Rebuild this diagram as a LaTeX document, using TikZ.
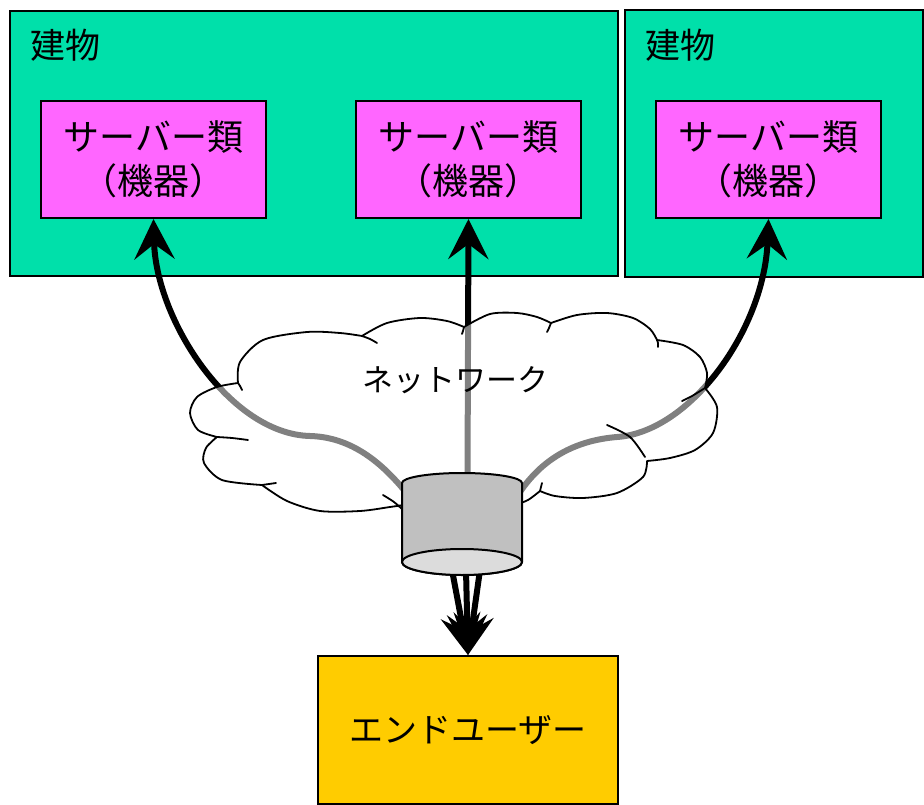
\documentclass[tikz,border=0pt]{standalone}
\usepackage{fontspec}
\setmainfont{Noto Sans CJK JP}
\usetikzlibrary{arrows.meta}
\definecolor{bldgfill}{HTML}{00E0AA}
\definecolor{srvfill}{HTML}{FF66FF}
\definecolor{userfill}{HTML}{FFCC00}
\definecolor{hubbody}{HTML}{C0C0C0}
\definecolor{hubend}{HTML}{DCDCDC}
\begin{document}
\begin{tikzpicture}[x=1pt,y=-1pt,
  bldg/.style={draw=black, line width=2pt, fill=bldgfill, inner sep=0pt, anchor=north west},
  srv/.style={draw=black, line width=2pt, fill=srvfill, anchor=north west,
    minimum width=225pt, minimum height=117pt, inner sep=0pt, align=center,
    font=\fontsize{36pt}{44pt}\selectfont},
  lbl/.style={inner sep=0pt, anchor=west, font=\fontsize{35pt}{40pt}\selectfont},
  conn/.style={line width=6pt, -{Stealth[length=40pt, width=40pt, inset=15pt]}},
  cloudline/.style={draw=black, line width=1.8pt, line join=round, line cap=round},
]
\useasboundingbox (0,0) rectangle (924,805);

% buildings
\node[bldg, minimum width=608pt, minimum height=265pt] (b1) at (9,10) {};
\node[bldg, minimum width=298pt, minimum height=267pt] (b2) at (624,9) {};
\node[lbl] (b1lbl) at (30,45) {建物};
\node[lbl] (b2lbl) at (645,45) {建物};

% servers
\node[srv] (s1) at (40,100) {サーバー類\\（機器）};
\node[srv] (s2) at (355,100) {サーバー類\\（機器）};
\node[srv] (s3) at (655,100) {サーバー類\\（機器）};

% end user
\node[draw=black, line width=2pt, fill=userfill, anchor=north west,
  minimum width=300pt, minimum height=148pt, inner sep=0pt,
  font=\fontsize{34pt}{40pt}\selectfont] (user) at (317,655) {エンドユーザー};

% hub and connector ends
\node[inner sep=0pt, minimum width=120pt, minimum height=102pt] (hub) at (462,524) {};
\coordinate (hl) at (404,490);
\coordinate (kl) at (310,436);
\coordinate (hm) at (467.5,478);
\coordinate (hr) at (520,492);
\coordinate (kr) at (617,437);
\coordinate (d1) at (452,570);
\coordinate (d2) at (466,570);
\coordinate (d3) at (480,570);

% links to the servers
\draw[conn] (hl) .. controls (375,455) and (345,437) .. (kl)
  .. controls (230,434) and (156,320) .. (s1.south);
\draw[conn] (hm) -- (s2.south);
\draw[conn] (hr) .. controls (545,455) and (580,440) .. (kr)
  .. controls (690,432) and (764,330) .. (s3.south);

% links to the end user
\draw[conn] (d1) -- (user.north);
\draw[conn] (d2) -- (user.north);
\draw[conn] (d3) -- (user.north);

% network cloud
\path[cloudline, fill=white, fill opacity=0.5]
  plot[smooth] coordinates {(410,504) (390,507) (360,511) (320,511) (287,501) (262,485)}
  -- plot[smooth] coordinates {(262,485) (222,480) (204,463) (206,448) (217,437)}
  -- plot[smooth] coordinates {(217,437) (198,430) (190,413) (197,397) (217,387) (238,383)}
  -- plot[smooth] coordinates {(238,383) (240,362) (263,340) (307,332) (340,333) (362,336)}
  -- plot[smooth] coordinates {(362,336) (387,323) (420,318) (447,321) (464,327)}
  -- plot[smooth] coordinates {(464,327) (490,314) (517,313) (537,317) (551,323)}
  -- plot[smooth] coordinates {(551,323) (577,315) (607,313) (633,318) (650,329) (657,340)}
  -- plot[smooth] coordinates {(657,340) (683,345) (700,357) (707,373) (705,388)}
  -- plot[smooth] coordinates {(705,388) (717,407) (713,433) (695,450) (670,458) (647,461)}
  -- plot[smooth] coordinates {(647,461) (643,477) (617,493) (583,498) (555,496) (540,491)}
  -- plot[smooth] coordinates {(540,491) (528,500) (515,505)}
  -- cycle;
% inner puff edges
\draw[cloudline] plot[smooth] coordinates {(383,495) (394,502) (403,510)};
\draw[cloudline] plot[smooth] coordinates {(262,485) (269,484) (276,483)};
\draw[cloudline] plot[smooth] coordinates {(217,437) (232,438) (248,440)};
\draw[cloudline] plot[smooth] coordinates {(238,383) (240,386) (242,390)};
\draw[cloudline] plot[smooth] coordinates {(362,336) (370,339) (377,343)};
\draw[cloudline] plot[smooth] coordinates {(464,327) (463,331) (462,334)};
\draw[cloudline] plot[smooth] coordinates {(551,323) (549,328) (547,332)};
\draw[cloudline] plot[smooth] coordinates {(657,340) (658,343) (658,347)};
\draw[cloudline] plot[smooth] coordinates {(705,388) (692,396) (682,401)};
\draw[cloudline] plot[smooth] coordinates {(607,425) (630,437) (645,457)};
\draw[cloudline] plot[smooth] coordinates {(540,491) (541,487) (542,483)};
\node[inner sep=0pt, font=\fontsize{31pt}{36pt}\selectfont] (net) at (455,380) {ネットワーク};

% hub cylinder
\filldraw[fill=hubbody, line width=2pt, line join=round]
  (402,483) arc[start angle=180, end angle=360, x radius=60, y radius=10]
  -- (522,562) arc[start angle=0, end angle=180, x radius=60, y radius=13] -- cycle;
\filldraw[fill=hubend, line width=2pt] (462,562) ellipse[x radius=60, y radius=13];
\end{tikzpicture}
\end{document}
